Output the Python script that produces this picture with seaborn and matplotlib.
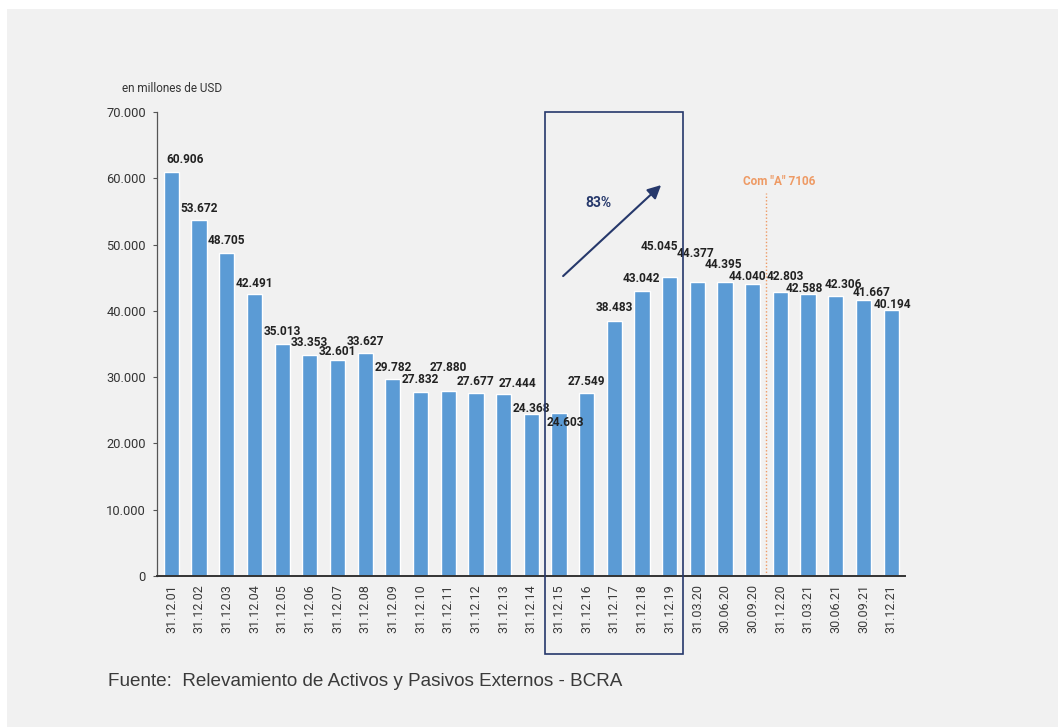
import matplotlib
matplotlib.use("Agg")
import matplotlib.pyplot as plt
import seaborn as sns
import pandas as pd
from matplotlib.patches import Rectangle
from matplotlib.ticker import FuncFormatter

# ---- data ----
fechas = ["31.12.01", "31.12.02", "31.12.03", "31.12.04", "31.12.05", "31.12.06",
          "31.12.07", "31.12.08", "31.12.09", "31.12.10", "31.12.11", "31.12.12",
          "31.12.13", "31.12.14", "31.12.15", "31.12.16", "31.12.17", "31.12.18",
          "31.12.19", "31.03.20", "30.06.20", "30.09.20", "31.12.20", "31.03.21",
          "30.06.21", "30.09.21", "31.12.21"]
valores = [60906, 53672, 48705, 42491, 35013, 33353, 32601, 33627, 29782, 27832,
           27880, 27677, 27444, 24368, 24603, 27549, 38483, 43042, 45045, 44377,
           44395, 44040, 42803, 42588, 42306, 41667, 40194]
y_ticks = [0, 10000, 20000, 30000, 40000, 50000, 60000, 70000]
unidad = "en millones de USD"
fuente = "Fuente:  Relevamiento de Activos y Pasivos Externos - BCRA"
crecimiento = "83%"
normativa = 'Com "A" 7106'

# label offsets in pixels (dx, dy above bar top) – styling only
label_dx = [14, 0, 0, 0, 0, 0, 0, 0, 0, 0, 0, 0, 14, 0, 6, 0, 0, -1, -10, -2,
            -2, -5, 5, -4, 8, 8, 1]
label_dy = [13, 12, 13, 11, 12, 12, 8, 12, 11, 12, 24, 11, 11, 6, -10, 12, 13,
            12, 31, 28, 17, 8, 16, 5, 11, 7, 5]

df = pd.DataFrame({"fecha": fechas, "valor": valores})

BAR = "#5b9bd5"
NAVY = "#26386b"
ORANGE = "#ee9a64"
TXT = "#222222"

sns.set_theme(style="white")
plt.rcParams["font.family"] = ["Roboto", "DejaVu Sans"]

fig = plt.figure(figsize=(10.58, 7.27), dpi=100)
fig.patch.set_facecolor("white")
fig.patches.append(Rectangle((7 / 1058, 0), 1, 1 - 9 / 727, transform=fig.transFigure,
                             facecolor="#f1f1f1", edgecolor="none", zorder=-10))

ax = fig.add_axes([157 / 1058, 1 - 576 / 727, (905 - 157) / 1058, (576 - 112) / 727])
ax.set_facecolor("none")

sns.barplot(data=df, x="fecha", y="valor", color=BAR, saturation=1, width=0.55,
            ax=ax, order=fechas)

ax.set_xlim(-0.52, 26.5)
ax.set_ylim(0, 70000)
ax.set_yticks(y_ticks)
ax.yaxis.set_major_formatter(FuncFormatter(lambda v, p: f"{int(v):,}".replace(",", ".")))
ax.set_xlabel("")
ax.set_ylabel("")
for s in ["top", "right"]:
    ax.spines[s].set_visible(False)
ax.spines["left"].set_color("#555555")
ax.spines["left"].set_linewidth(0.9)
ax.spines["bottom"].set_color("#333333")
ax.spines["bottom"].set_linewidth(1.4)
ax.tick_params(axis="y", left=True, length=3, width=0.8, color="#555555",
               labelsize=9.3, labelcolor="#333333", pad=5)
ax.tick_params(axis="x", bottom=False, length=0, labelsize=9, labelcolor="#3a3a3a", pad=6)
plt.setp(ax.get_xticklabels(), rotation=90)

# value labels
for i, v in enumerate(valores):
    ax.annotate(f"{v:,}".replace(",", "."), xy=(i, v), xytext=(label_dx[i], label_dy[i]),
                textcoords="offset pixels", ha="center", va="center",
                fontsize=8.6, fontweight="bold", color=TXT)

# highlight box
ax.add_patch(Rectangle((13.5, -11765), 4.99, 70000 + 11765, fill=False,
                       edgecolor=NAVY, linewidth=1.2, clip_on=False, zorder=5))
ax.annotate("", xy=(17.69, 58974), xytext=(14.15, 45249),
            arrowprops=dict(arrowstyle="-|>", color=NAVY, lw=1.5, mutation_scale=20,
                            shrinkA=0, shrinkB=0))
ax.text(15.41, 56259, crecimiento, ha="center", va="center", fontsize=10,
        fontweight="bold", color=NAVY)

# Com "A" 7106
ax.plot([21.49, 21.49], [0, 57768], linestyle=(0, (1, 1.5)), color=ORANGE, lw=1)
ax.text(21.96, 59578, normativa, ha="center", va="center", fontsize=8.5,
        fontweight="bold", color=ORANGE)

fig.text(122 / 1058, 1 - 89 / 727, unidad, ha="left", va="center", fontsize=8.5,
         color="#333333")
fig.text(108 / 1058, 1 - 682 / 727, fuente, ha="left", va="center", fontsize=13.6,
         color="#3a3a3a", family=["Liberation Sans", "DejaVu Sans"])

fig.savefig("out.png", dpi=100, facecolor=fig.get_facecolor())
